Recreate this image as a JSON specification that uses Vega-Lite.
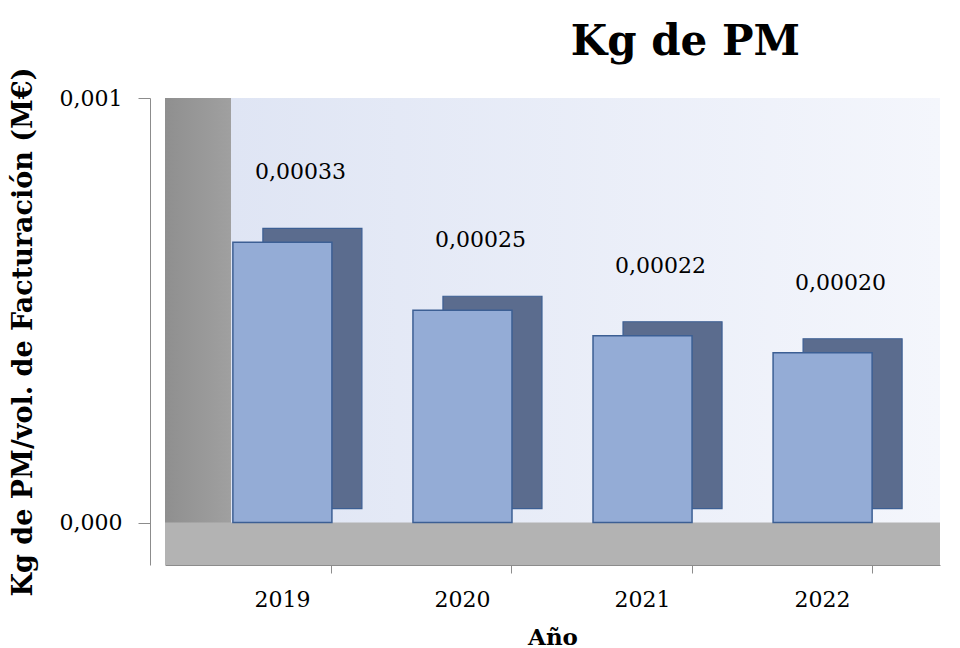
{
  "$schema": "https://vega.github.io/schema/vega-lite/v6.json",
  "width": 775,
  "height": 467,
  "autosize": {"type": "none"},
  "padding": {"left": 165, "top": 98, "right": 20, "bottom": 83},
  "background": "white",
  "config": {
    "locale": {"number": {"decimal": ",", "thousands": ".", "grouping": [3], "currency": ["", " €"]}},
    "font": "DejaVu Serif",
    "view": {"stroke": null}
  },
  "view": {
    "fill": {
      "gradient": "linear", "x1": 0, "y1": 0, "x2": 1, "y2": 0,
      "stops": [
        {"offset": 0, "color": "#8f8f8f"},
        {"offset": 0.085, "color": "#a0a0a0"},
        {"offset": 0.0851, "color": "#dfe5f4"},
        {"offset": 1, "color": "#f4f6fc"}
      ]
    }
  },
  "title": {
    "text": "Kg de PM",
    "font": "DejaVu Serif",
    "fontSize": 42,
    "fontWeight": "bold",
    "color": "#000000",
    "anchor": "end",
    "dx": -140,
    "offset": 3
  },
  "data": {"values": [
    {"Año": "2019", "valor": 0.00033},
    {"Año": "2020", "valor": 0.00025},
    {"Año": "2021", "valor": 0.00022},
    {"Año": "2022", "valor": 0.00020}
  ]},
  "layer": [
    {
      "data": {"values": [{}]},
      "mark": {"type": "rect", "color": "#b3b3b3"},
      "encoding": {
        "y": {"datum": 0, "type": "quantitative"},
        "y2": {"datum": -0.00005}
      }
    },
    {
      "mark": {"type": "bar", "color": "#5b6c8e", "stroke": "#3c5f94", "strokeWidth": 1.2, "xOffset": 30, "x2Offset": 30, "yOffset": -14, "y2Offset": -14},
      "encoding": {
        "x": {"field": "Año", "type": "ordinal", "scale": {"paddingInner": 0.45, "paddingOuter": 0.377},
          "axis": {"title": "Año", "labelAngle": 0, "labelFontSize": 22, "labelColor": "#000000", "labelPadding": 16,
            "titleFontSize": 23, "titleFontWeight": "bold", "titleColor": "#000000", "titlePadding": 16,
            "domainColor": "#8c8c8c", "tickColor": "#8c8c8c", "tickSize": 8, "bandPosition": 1}},
        "y": {"field": "valor", "type": "quantitative",
          "scale": {"domain": [-0.00005, 0.0005], "nice": false, "zero": false},
          "axis": {"title": "Kg de PM/vol. de Facturación (M€)", "values": [0, 0.0005], "format": ".3f",
            "offset": 15,
            "labelFontSize": 22, "labelColor": "#000000", "labelPadding": 16,
            "titleFontSize": 27, "titleFontWeight": "bold", "titleColor": "#000000", "titlePadding": 22,
            "domainColor": "#8c8c8c", "tickColor": "#8c8c8c", "tickSize": 12, "grid": false}}
      }
    },
    {
      "mark": {"type": "bar", "color": "#94acd6", "stroke": "#3c5f94", "strokeWidth": 1.5},
      "encoding": {
        "x": {"field": "Año", "type": "ordinal"},
        "y": {"field": "valor", "type": "quantitative"}
      }
    },
    {
      "mark": {"type": "text", "fontSize": 22, "dy": -58, "dx": 18, "color": "#000000", "baseline": "bottom"},
      "encoding": {
        "x": {"field": "Año", "type": "ordinal"},
        "y": {"field": "valor", "type": "quantitative"},
        "text": {"field": "valor", "type": "quantitative", "format": ".5f"}
      }
    }
  ]
}
